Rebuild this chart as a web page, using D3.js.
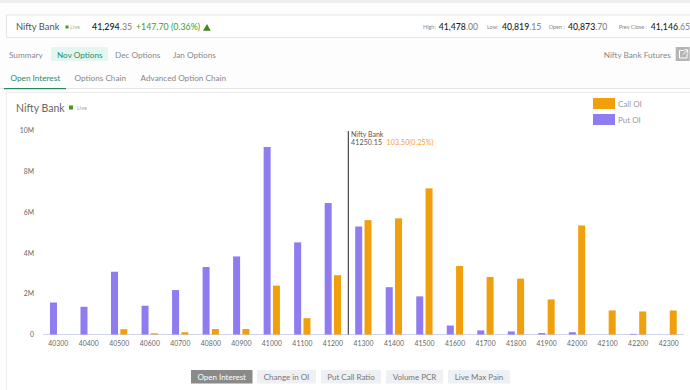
<!DOCTYPE html>
<html>
<head>
<meta charset="utf-8">
<script src="https://cdnjs.cloudflare.com/ajax/libs/d3/7.8.5/d3.min.js"></script>
<style>
  html, body { margin: 0; padding: 0; background: #fdfdfd; overflow: hidden; }
  svg { display: block; font-family: Lato, sans-serif; }
  .tick line, .domain { display: none; }
</style>
</head>
<body>
<svg id="chart" width="690" height="390"></svg>
<script>
const strikes = [40300, 40400, 40500, 40600, 40700, 40800, 40900, 41000, 41100, 41200, 41300,
  41400, 41500, 41600, 41700, 41800, 41900, 42000, 42100, 42200, 42300];
const putOI = [1.57, 1.36, 3.08, 1.41, 2.18, 3.31, 3.83, 9.2, 4.52, 6.45, 5.3,
  2.32, 1.87, 0.44, 0.2, 0.15, 0.07, 0.11, 0, 0.03, 0];
const callOI = [0, 0, 0.26, 0.06, 0.11, 0.27, 0.27, 2.4, 0.8, 2.91, 5.61,
  5.7, 7.17, 3.36, 2.82, 2.74, 1.72, 5.35, 1.18, 1.13, 1.18];
const yTicks = [0, 2, 4, 6, 8, 10];
const spotPrice = 41250.15;
const subTabs = ["Summary", "Nov Options", "Dec Options", "Jan Options"];
const viewTabs = ["Open Interest", "Options Chain", "Advanced Option Chain"];
const buttons = ["Open Interest", "Change in OI", "Put Call Ratio", "Volume PCR", "Live Max Pain"];
const quotes = [["High:", "41,478", ".00"], ["Low:", "40,819", ".15"], ["Open :", "40,873", ".70"], ["Prev Close :", "41,146", ".65"]];

const PUT = "#8e7cf0", CALL = "#f0a00c", GREEN = "#3f9a1e";
const svg = d3.select("#chart");

function label(x, y, str, size, fill, weight) {
  return svg.append("text").attr("x", x).attr("y", y).attr("font-size", size)
    .attr("fill", fill).attr("font-weight", weight || 400).text(str);
}

// page frame
svg.append("rect").attr("width", 690).attr("height", 3).attr("fill", "#efefef");
svg.append("rect").attr("x", 6.5).attr("y", 15).attr("width", 690).attr("height", 22.5)
  .attr("fill", "#fff").attr("stroke", "#e6e6e6");
svg.append("rect").attr("x", 6.5).attr("y", 92.5).attr("width", 690).attr("height", 310)
  .attr("fill", "#fff").attr("stroke", "#ececec");

// header quote
label(16, 29.5, "Nifty Bank", 9.4, "#555");
svg.append("rect").attr("x", 65.5).attr("y", 25.5).attr("width", 3).attr("height", 3).attr("fill", GREEN);
label(70, 29, "Live", 5.5, "#aaa");
const price = label(92, 29.5, "41,294", 8.9, "#222", 500);
price.append("tspan").text(".35").attr("fill", "#888");
label(136, 29.5, "+147.70 (0.36%)", 8.8, GREEN);
svg.append("path").attr("d", "M203,30.7L207,24L210.7,30.7Z").attr("fill", "#3c8a1c");

const quoteX = [423, 487, 548.7, 618.7];
const quoteNumX = [438.7, 502, 568, 650.8];
quotes.forEach((q, i) => {
  label(quoteX[i], 28.5, q[0], 5.5, "#888");
  label(quoteNumX[i], 29.5, q[1], 8.7, "#222", 500).append("tspan").text(q[2]).attr("fill", "#888");
});

// sub tabs
svg.append("rect").attr("x", 51).attr("y", 47).attr("width", 57).attr("height", 14).attr("rx", 1).attr("fill", "#e4f6f0");
const subX = [9, 57, 115, 173];
subTabs.forEach((t, i) => label(subX[i], 57.5, t, 8.2, i === 1 ? "#2a8c6a" : "#888"));
label(603.7, 57.5, "Nifty Bank Futures", 8.2, "#888");
svg.append("rect").attr("x", 675.7).attr("y", 47).attr("width", 14).attr("height", 14).attr("fill", "#b5b5b5");
svg.append("path").attr("d", "M684,50.5H679.5V58H687V53.5M683,54.5L687.5,50M684.5,49.8H687.7V53")
  .attr("fill", "none").attr("stroke", "#fff").attr("stroke-width", 1);

// view tabs
const viewX = [10.5, 74.5, 140.5];
viewTabs.forEach((t, i) => label(viewX[i], 80.5, t, 8.2, i === 0 ? "#2a8c6a" : "#888"));
svg.append("rect").attr("y", 88).attr("width", 690).attr("height", 1).attr("fill", "#e4e4e4");
svg.append("rect").attr("x", 4).attr("y", 88).attr("width", 62).attr("height", 1.2).attr("fill", "#1f8a5a");

// chart title
label(16, 112, "Nifty Bank", 10.5, "#666");
svg.append("rect").attr("x", 69).attr("y", 105.5).attr("width", 4).attr("height", 4).attr("fill", GREEN);
label(77, 109.5, "Live", 5.5, "#aaa");

// scales
const x = d3.scaleBand().domain(strikes).range([43, 684]);
const xPrice = d3.scaleLinear().domain([strikes[0], strikes[strikes.length - 1]])
  .range([x(strikes[0]) + x.bandwidth() / 2, x(strikes[strikes.length - 1]) + x.bandwidth() / 2]);
const y = d3.scaleLinear().domain([0, 10]).range([334.5, 130.7]);

// axes
const yAxis = d3.axisLeft(y).tickValues(yTicks).tickSize(0).tickPadding(0)
  .tickFormat(d => d === 0 ? "0" : d + "M");
svg.append("g").attr("transform", "translate(34,0)").call(yAxis)
  .selectAll("text").attr("font-size", 6.8).attr("font-family", "Lato, sans-serif").attr("fill", "#666");

const xAxis = d3.axisBottom(x).tickSize(0).tickPadding(7);
svg.append("g").attr("transform", "translate(0,334.5)").call(xAxis)
  .selectAll("text").attr("font-size", 6.8).attr("font-family", "Lato, sans-serif")
  .attr("fill", "#666").attr("letter-spacing", 0.1);

svg.append("line").attr("x1", 43).attr("x2", 684).attr("y1", 334.5).attr("y2", 334.5)
  .attr("stroke", "#cfd3ea").attr("stroke-width", 1);

// bars
const barW = 7;
svg.append("g").selectAll("rect").data(strikes).join("rect")
  .attr("x", d => x(d) + x.bandwidth() / 2 - 8.3)
  .attr("y", (d, i) => y(putOI[i]))
  .attr("width", barW)
  .attr("height", (d, i) => y(0) - y(putOI[i]))
  .attr("fill", PUT);
svg.append("g").selectAll("rect").data(strikes).join("rect")
  .attr("x", d => x(d) + x.bandwidth() / 2 + 1)
  .attr("y", (d, i) => y(callOI[i]))
  .attr("width", barW)
  .attr("height", (d, i) => y(0) - y(callOI[i]))
  .attr("fill", CALL);

// spot line
svg.append("line").attr("x1", xPrice(spotPrice)).attr("x2", xPrice(spotPrice))
  .attr("y1", 131).attr("y2", 334.5).attr("stroke", "#222").attr("stroke-width", 1);
label(351, 136.5, "Nifty Bank", 7, "#555");
label(351, 145.2, "41250.15", 7, "#555").attr("letter-spacing", 0.15);
label(386.5, 145.2, "103.50(0.25%)", 7, "#f5a020").attr("letter-spacing", 0.15);

// legend
svg.append("rect").attr("x", 593).attr("y", 98).attr("width", 22).attr("height", 11).attr("fill", CALL);
svg.append("rect").attr("x", 593).attr("y", 114).attr("width", 22).attr("height", 11).attr("fill", PUT);
label(618, 107, "Call OI", 8, "#999");
label(618, 123, "Put OI", 8, "#999");

// bottom buttons
const btnX = [191, 257, 321, 386, 448];
const btnW = [61.5, 59, 60, 57, 62];
buttons.forEach((b, i) => {
  svg.append("rect").attr("x", btnX[i]).attr("y", 370).attr("width", btnW[i]).attr("height", 13.5)
    .attr("fill", i === 0 ? "#8a8a8a" : "#eef0f4");
  label(btnX[i] + btnW[i] / 2, 379.8, b, 8, i === 0 ? "#fff" : "#777").attr("text-anchor", "middle");
});
</script>
</body>
</html>
